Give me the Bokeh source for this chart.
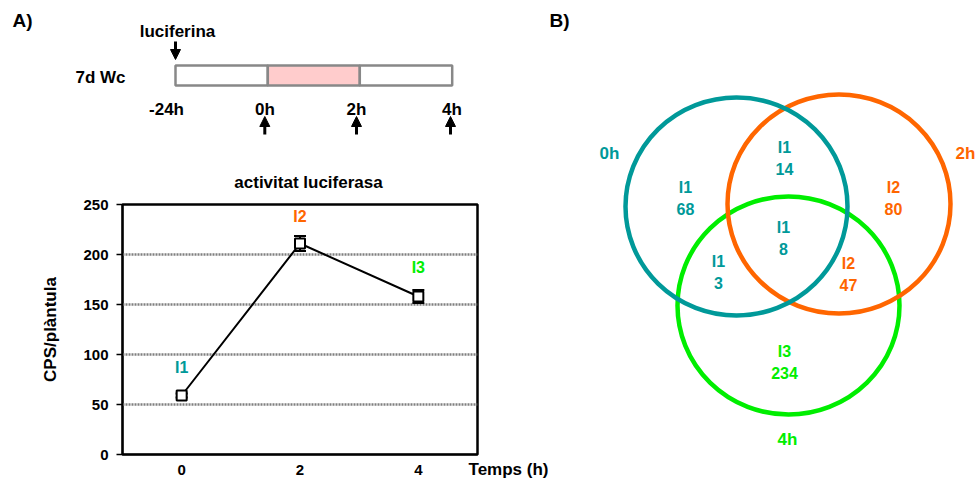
from bokeh.plotting import figure
from bokeh.models import (Range1d, FixedTicker, ColumnDataSource, Whisker, TeeHead,
                          Arrow, NormalHead, Title)
from bokeh.layouts import row, column
from bokeh.embed import file_html
from bokeh.resources import INLINE
from bokeh.core.properties import value

# ---------------- data ----------------
time_h = [0, 2, 4]
cps = [59, 211, 158]
cps_err = [2, 7.5, 6.5]
point_groups = ["I1", "I2", "I3"]
y_ticks = [0, 50, 100, 150, 200, 250]
x_ticks = [0, 2, 4]
chart_title = "activitat luciferasa"

timeline_labels = ["-24h", "0h", "2h", "4h"]

venn_sets = ["0h", "2h", "4h"]
venn_groups = ["I1", "I1", "I2", "I1", "I1", "I2", "I3"]
venn_counts = [68, 14, 80, 8, 3, 47, 234]

# ---------------- styles / layout ----------------
FONT = "Liberation Sans"
TEAL, ORANGE, GREEN = "#009999", "#ff6600", "#00ee00"
group_color = {"I1": TEAL, "I2": ORANGE, "I3": GREEN}
set_color = [TEAL, ORANGE, GREEN]

# ============ top: timeline diagram (+ chart title) ============
top = figure(width=548, height=190, x_range=Range1d(0, 548), y_range=Range1d(190, 0),
             output_backend="svg", toolbar_location=None,
             x_axis_location=None, y_axis_location=None, min_border=0)
top.frame_align = False
top.outline_line_color = None
top.grid.visible = False

seg_edges = [175, 267.3, 359.3, 451.7]
seg_fill = ["white", "#ffcccc", "white"]
top.quad(left=seg_edges[:-1], right=seg_edges[1:], top=65, bottom=85,
         fill_color=seg_fill, line_color="#888888", line_width=2.5)

tl_x = [166, 264.5, 356, 451.5]
top.text(x=tl_x, y=[109] * 4, text=timeline_labels, text_align="center",
         text_baseline="middle", text_font=value(FONT), text_font_style="bold",
         text_font_size="17px", text_color="black")
top.text(x=[12, 100, 177], y=[20, 76.5, 31], text=["A)", "7d Wc", "luciferina"],
         text_align=["left", "center", "center"], text_baseline="middle",
         text_font=value(FONT), text_font_style="bold",
         text_font_size=["19px", "17px", "17px"], text_color="black")
top.text(x=[308], y=[181.5], text=[chart_title], text_align="center",
         text_baseline="middle", text_font=value(FONT), text_font_style="bold",
         text_font_size="17px", text_color="black")

top.add_layout(Arrow(end=NormalHead(size=10, fill_color="black", line_color="black"),
                     x_start=175, y_start=41, x_end=175, y_end=59,
                     line_width=3, line_color="black"))
for xa in [264.3, 356, 450]:
    top.add_layout(Arrow(end=NormalHead(size=10, fill_color="black", line_color="black"),
                         x_start=xa, y_start=134, x_end=xa, y_end=116,
                         line_width=3, line_color="black"))

# ============ chart ============
ch = figure(width=548, height=293, x_range=Range1d(-1, 5), y_range=Range1d(0, 250),
            output_backend="svg", toolbar_location=None,
            min_border_left=122, min_border_right=71, min_border_top=14,
            min_border_bottom=29)
ch.frame_align = False
ch.outline_line_color = "black"
ch.outline_line_width = 2.5
ch.xgrid.visible = False
ch.ygrid.ticker = FixedTicker(ticks=[50, 100, 150, 200])
ch.ygrid.grid_line_color = "#808080"
ch.ygrid.grid_line_width = 2.5
ch.ygrid.grid_line_dash = "2 1"

ch.yaxis.ticker = FixedTicker(ticks=y_ticks)
ch.xaxis.ticker = FixedTicker(ticks=x_ticks)
for ax in (ch.xaxis, ch.yaxis):
    ax.axis_line_color = "black"
    ax.axis_line_width = 1.5
    ax.major_label_text_font = FONT
    ax.major_label_text_font_style = "bold"
    ax.major_label_text_font_size = "15px"
    ax.major_label_text_color = "black"
    ax.minor_tick_line_color = None
ch.yaxis.major_tick_out = 6
ch.yaxis.major_tick_in = 0
ch.yaxis.major_tick_line_color = "black"
ch.yaxis.major_tick_line_width = 1.5
ch.yaxis.major_label_standoff = 8
ch.yaxis.axis_label = "CPS/plàntula"
ch.yaxis.axis_label_text_font = FONT
ch.yaxis.axis_label_text_font_style = "bold"
ch.yaxis.axis_label_text_font_size = "17px"
ch.yaxis.axis_label_text_color = "black"
ch.yaxis.axis_label_standoff = 20
ch.xaxis.major_tick_out = 0
ch.xaxis.major_tick_in = 0
ch.xaxis.major_label_standoff = 10

ch.add_layout(Title(text="Temps (h)", align="right", offset=-71, standoff=-36,
                    vertical_align="top", text_font=FONT, text_font_style="bold",
                    text_font_size="17px", text_color="black"), "below")

src = ColumnDataSource(dict(x=time_h, y=cps,
                            lo=[v - e for v, e in zip(cps, cps_err)],
                            hi=[v + e for v, e in zip(cps, cps_err)]))
ch.add_layout(Whisker(source=src, base="x", upper="hi", lower="lo",
                      line_color="black", line_width=2,
                      upper_head=TeeHead(size=12, line_color="black", line_width=2),
                      lower_head=TeeHead(size=12, line_color="black", line_width=2)))
ch.line("x", "y", source=src, line_color="black", line_width=2)
ch.scatter("x", "y", source=src, marker="square", size=10, fill_color="white",
           line_color="black", line_width=2)

lab_y = [87, 238, 187]
ch.text(x=time_h, y=lab_y, text=point_groups, text_align="center",
        text_baseline="middle", text_font=value(FONT), text_font_style="bold",
        text_font_size="16px", text_color=[group_color[g] for g in point_groups])

# ============ venn ============
vn = figure(width=430, height=483, x_range=Range1d(548, 978), y_range=Range1d(483, 0),
            output_backend="svg", toolbar_location=None,
            x_axis_location=None, y_axis_location=None, min_border=0)
vn.frame_align = False
vn.outline_line_color = None
vn.grid.visible = False

circ_x = [736, 838.5, 788]
circ_y = [206, 203.5, 305]
circ_w = [222, 223, 222]
circ_h = [218, 219, 218]
for i in [2, 1, 0]:
    vn.ellipse(x=circ_x[i], y=circ_y[i], width=circ_w[i], height=circ_h[i],
               fill_color=None, line_color=set_color[i], line_width=4.5)

set_lx = [609, 965, 787]
set_ly = [153, 153, 439]
vn.text(x=set_lx, y=set_ly, text=venn_sets, text_align="center", text_baseline="middle",
        text_font=value(FONT), text_font_style="bold", text_font_size="17px",
        text_color=set_color)

reg_x = [685, 784, 893, 783, 718, 848, 784]
reg_y = [197.5, 157.5, 197.5, 237.5, 271.5, 273.5, 361.5]
cols = [group_color[g] for g in venn_groups]
vn.text(x=reg_x, y=[v - 10.5 for v in reg_y], text=venn_groups, text_align="center",
        text_baseline="middle", text_font=value(FONT), text_font_style="bold",
        text_font_size="16px", text_color=cols)
vn.text(x=reg_x, y=[v + 10.5 for v in reg_y], text=[str(c) for c in venn_counts],
        text_align="center", text_baseline="middle", text_font=value(FONT),
        text_font_style="bold", text_font_size="16px", text_color=cols)
vn.text(x=[549], y=[20], text=["B)"], text_align="left", text_baseline="middle",
        text_font=value(FONT), text_font_style="bold", text_font_size="19px",
        text_color="black")

layout = row(column(top, ch), vn)
open("out.html", "w").write(file_html(layout, INLINE))
